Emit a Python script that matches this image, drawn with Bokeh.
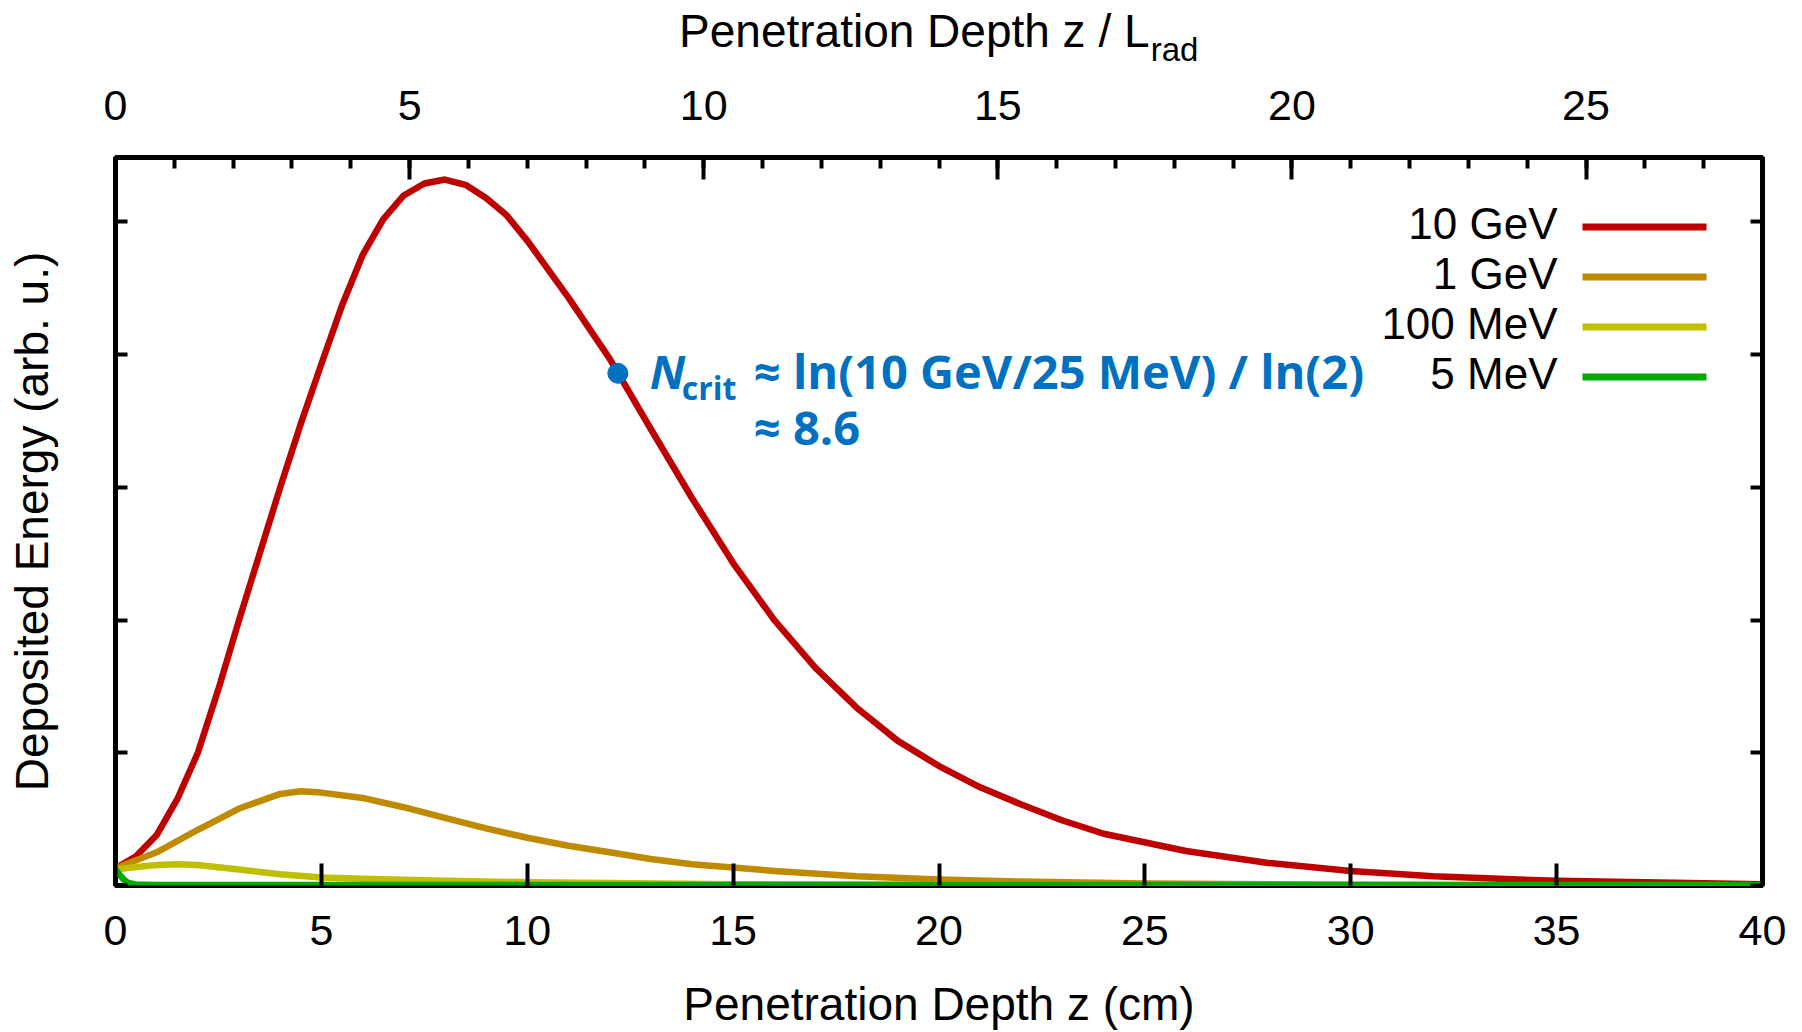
from math import pi
from bokeh.plotting import figure
from bokeh.models import (Range1d, LinearAxis, SingleIntervalTicker, FixedTicker, Label,
                          CustomJSTickFormatter)
from bokeh.embed import file_html
from bokeh.resources import INLINE

# ---------------- data ----------------
z_10gev = [0, 0.5, 1, 1.5, 2, 2.5, 3, 3.5, 4, 4.5, 5, 5.5, 6, 6.5, 7, 7.5, 8, 8.5, 9, 9.5,
           10, 11, 12, 13, 14, 15, 16, 17, 18, 19, 20, 21, 22, 23, 24, 26, 28, 30, 32,
           35, 40]
e_10gev = [0.13, 0.22, 0.38, 0.65, 1.0, 1.48, 2.0, 2.5, 3.0, 3.48, 3.93, 4.37, 4.75, 5.02,
           5.2, 5.29, 5.32, 5.28, 5.18, 5.05, 4.86, 4.43, 3.97, 3.44, 2.92, 2.43, 2.0,
           1.64, 1.34, 1.09, 0.9, 0.74, 0.61, 0.49, 0.39, 0.26, 0.17, 0.11, 0.07, 0.035,
           0.01]

z_1gev = [0, 1, 2, 3, 4, 4.5, 5, 6, 7, 8, 9, 10, 11, 12, 13, 14, 16, 18, 20, 22, 25,
          30, 35, 40]
e_1gev = [0.13, 0.25, 0.42, 0.58, 0.69, 0.71, 0.70, 0.66, 0.59, 0.51, 0.43, 0.36, 0.30,
          0.25, 0.20, 0.16, 0.11, 0.07, 0.045, 0.03, 0.015, 0.006, 0.002, 0.001]

z_100mev = [0, 0.5, 1, 1.5, 2, 3, 4, 5, 6, 8, 10, 12, 15, 20, 25, 30, 40]
e_100mev = [0.12, 0.14, 0.155, 0.16, 0.155, 0.12, 0.085, 0.06, 0.05, 0.035, 0.025,
            0.018, 0.01, 0.005, 0.003, 0.002, 0.001]

z_5mev = [0, 0.1, 0.2, 0.3, 0.5, 1, 2, 5, 10, 20, 40]
e_5mev = [0.12, 0.08, 0.045, 0.02, 0.008, 0.004, 0.003, 0.003, 0.003, 0.003, 0.003]

series_names = ["10 GeV", "1 GeV", "100 MeV", "5 MeV"]
series_z = [z_10gev, z_1gev, z_100mev, z_5mev]
series_e = [e_10gev, e_1gev, e_100mev, e_5mev]
series_colors = ["#BE0000", "#BF8A00", "#BFBF00", "#00AA00"]

ncrit_z = 12.2
ncrit_e = 3.86
ncrit_line1 = "\u2248 ln(10 GeV/25 MeV) / ln(2)"
ncrit_line2 = "\u2248 8.6"

x_title = "Penetration Depth z (cm)"
top_title = "Penetration Depth z / L"
top_title_sub = "rad"
y_title = "Deposited Energy (arb. u.)"

X_MAX = 40
Y_MAX = 5.486
TOP_MAX = 28

# ---------------- layout ----------------
W, H = 1802, 1032
ML, MR, MT, MB = 115, W - 1762, 157, H - 885
FW = W - ML - MR
FH = H - MT - MB
PX_X = FW / X_MAX
PX_Y = FH / Y_MAX
TITLE_X = 19.40   # centre of the top title text (cm scale)
RAD_X = 25.72     # centre of the "rad" subscript (cm scale)

FONT = "Liberation Sans"
BLUE = "#0070C0"
TICK_FS = "43px"
TITLE_FS = "46px"


def base_fix(px):
    # shift so that the alphabetic baseline lands where intended
    return 0.37 * px


p = figure(width=W, height=H, x_range=Range1d(0, X_MAX), y_range=Range1d(0, Y_MAX),
           output_backend="svg", toolbar_location=None,
           min_border_left=ML, min_border_right=MR, min_border_top=MT,
           min_border_bottom=MB)
p.xgrid.visible = False
p.ygrid.visible = False
p.outline_line_color = "black"
p.outline_line_width = 5
p.background_fill_color = "white"
p.border_fill_color = "white"

bottom = p.below[0]
left = p.left[0]
bottom.ticker = SingleIntervalTicker(interval=5, num_minor_ticks=0)
left.ticker = SingleIntervalTicker(interval=1, num_minor_ticks=0)

p.extra_x_ranges = {"top": Range1d(0, TOP_MAX)}
top_axis = LinearAxis(x_range_name="top",
                      ticker=SingleIntervalTicker(interval=5, num_minor_ticks=5))
p.add_layout(top_axis, "above")
right_axis = LinearAxis(ticker=SingleIntervalTicker(interval=1, num_minor_ticks=0))
p.add_layout(right_axis, "right")

# outer "axes" that only carry the top title and its subscript
sub_axis = LinearAxis(ticker=FixedTicker(ticks=[RAD_X], minor_ticks=[]),
                      formatter=CustomJSTickFormatter(
                          code="return '%s'" % top_title_sub))
p.add_layout(sub_axis, "above")
title_axis = LinearAxis(ticker=FixedTicker(ticks=[TITLE_X], minor_ticks=[]),
                        formatter=CustomJSTickFormatter(
                            code="return '%s'" % top_title))
p.add_layout(title_axis, "above")

for ax in [bottom, top_axis]:
    ax.axis_line_color = None
    ax.major_tick_in = 22
    ax.major_tick_out = 0
    ax.minor_tick_in = 11
    ax.minor_tick_out = 0
    ax.major_tick_line_width = 4
    ax.minor_tick_line_width = 4
    ax.major_tick_line_color = "black"
    ax.minor_tick_line_color = "black"
    ax.major_label_text_font = FONT
    ax.major_label_text_font_size = TICK_FS
    ax.major_label_text_color = "black"
bottom.major_label_standoff = 30
top_axis.major_label_standoff = 38

bottom.axis_label = x_title
bottom.axis_label_text_font = FONT
bottom.axis_label_text_font_size = TITLE_FS
bottom.axis_label_text_font_style = "normal"
bottom.axis_label_text_color = "black"
bottom.axis_label_standoff = 30

for ax, fs, so in [(sub_axis, "33px", 20), (title_axis, TITLE_FS, -29)]:
    ax.axis_line_color = None
    ax.major_tick_line_color = None
    ax.minor_tick_line_color = None
    ax.major_tick_in = 0
    ax.major_tick_out = 0
    ax.minor_tick_in = 0
    ax.minor_tick_out = 0
    ax.major_label_text_font = FONT
    ax.major_label_text_font_size = fs
    ax.major_label_text_color = "black"
    ax.major_label_standoff = so

for ax in [left, right_axis]:
    ax.axis_line_color = None
    ax.major_tick_in = 12
    ax.major_tick_out = 0
    ax.minor_tick_in = 0
    ax.minor_tick_out = 0
    ax.major_tick_line_width = 4
    ax.major_tick_line_color = "black"
    ax.formatter = CustomJSTickFormatter(code="return ''")
    ax.major_label_standoff = 0

left.axis_label = y_title
left.axis_label_text_font = FONT
left.axis_label_text_font_size = TITLE_FS
left.axis_label_text_font_style = "normal"
left.axis_label_text_color = "black"
left.axis_label_standoff = 58

# ---------------- curves ----------------
for z, e, c in zip(series_z, series_e, series_colors):
    p.line(z, e, line_color=c, line_width=6.5, line_join="round", line_cap="round")

# ---------------- legend (text left of the sample line) ----------------
for i, (name, c) in enumerate(zip(series_names, series_colors)):
    base_off = 82 + 50 * i
    line_off = base_off - 12.5
    yv = Y_MAX - line_off / PX_Y
    p.line([X_MAX - 180 / PX_X, X_MAX - 56 / PX_X], [yv, yv], line_color=c,
           line_width=7)
    p.add_layout(Label(x=X_MAX, y=Y_MAX, x_offset=-205,
                       y_offset=-base_off + base_fix(44), text=name,
                       text_font=FONT, text_font_size="44px", text_align="right",
                       text_baseline="alphabetic", text_color="black"))

# ---------------- N_crit annotation ----------------
p.scatter([ncrit_z], [ncrit_e], size=20, color=BLUE)
ann = dict(text_font="Open Sans", text_color=BLUE, text_baseline="alphabetic",
           text_align="left")
p.add_layout(Label(x=ncrit_z, y=ncrit_e, x_offset=32, y_offset=-15 + base_fix(47),
                   text="N", text_font_size="47px", text_font_style="bold italic",
                   **ann))
p.add_layout(Label(x=ncrit_z, y=ncrit_e, x_offset=64, y_offset=-26 + base_fix(32),
                   text="crit", text_font_size="32px", text_font_style="bold", **ann))
p.add_layout(Label(x=ncrit_z, y=ncrit_e, x_offset=136, y_offset=-15 + base_fix(47),
                   text=ncrit_line1, text_font_size="47px", text_font_style="bold",
                   **ann))
p.add_layout(Label(x=ncrit_z, y=ncrit_e, x_offset=136, y_offset=-71 + base_fix(47),
                   text=ncrit_line2, text_font_size="47px", text_font_style="bold",
                   **ann))

open("out.html", "w").write(file_html(p, INLINE))
